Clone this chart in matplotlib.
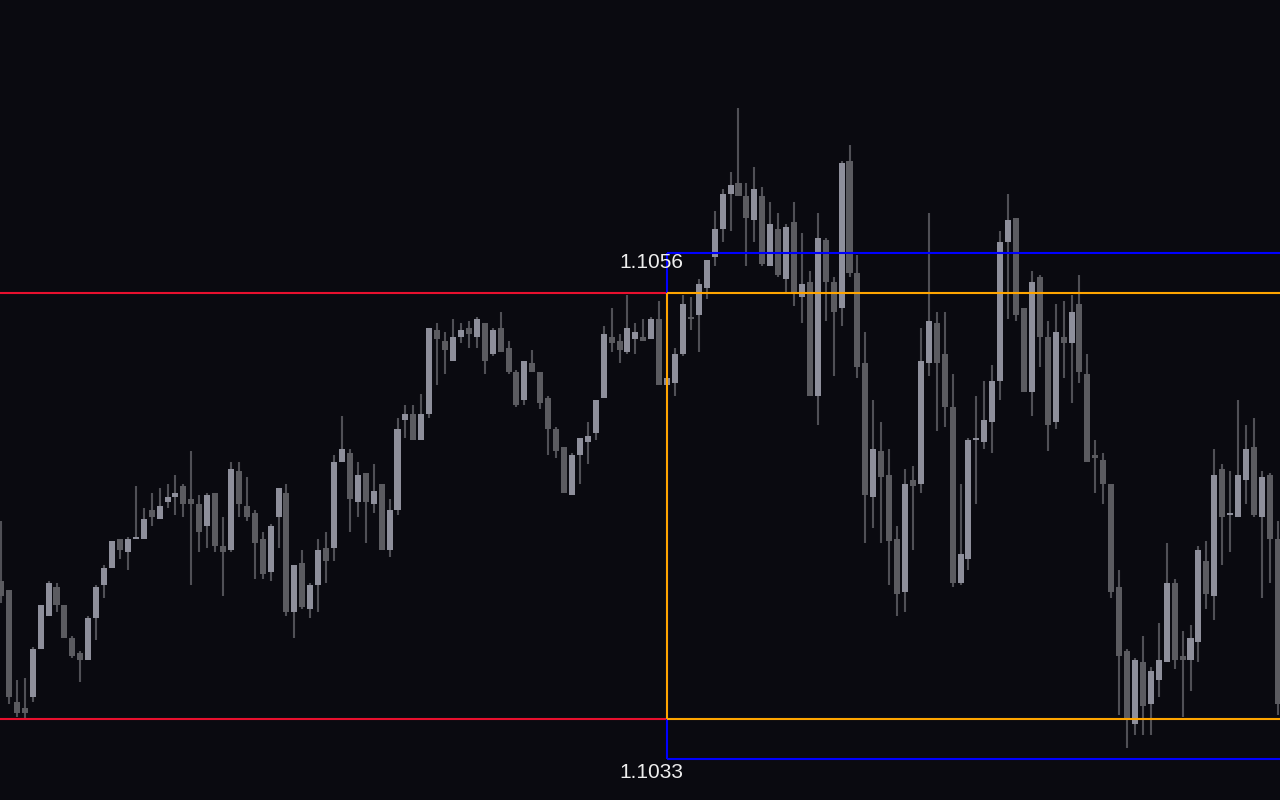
import numpy as np
import matplotlib
matplotlib.use("Agg")
from matplotlib import pyplot as plt

plt.rcParams['font.family'] = ['Liberation Sans', 'DejaVu Sans']

# OHLC, one entry per bar
opens = [
    1.10411, 1.10407, 1.10356, 1.10353, 1.10358, 1.10380, 1.10395, 1.10408, 1.10400, 1.10385,
    1.10378, 1.10375, 1.10394, 1.10409, 1.10417, 1.10430, 1.10424, 1.10430, 1.10430, 1.10443,
    1.10439, 1.10447, 1.10449, 1.10454, 1.10448, 1.10446, 1.10436, 1.10451, 1.10427, 1.10425,
    1.10461, 1.10445, 1.10442, 1.10430, 1.10415, 1.10440, 1.10451, 1.10397, 1.10419, 1.10398,
    1.10409, 1.10426, 1.10426, 1.10465, 1.10469, 1.10447, 1.10460, 1.10446, 1.10455, 1.10425,
    1.10443, 1.10484, 1.10487, 1.10475, 1.10487, 1.10525, 1.10520, 1.10511, 1.10522, 1.10526,
    1.10522, 1.10528, 1.10514, 1.10526, 1.10517, 1.10506, 1.10493, 1.10510, 1.10506, 1.10494,
    1.10480, 1.10472, 1.10450, 1.10468, 1.10474, 1.10478, 1.10494, 1.10522, 1.10520, 1.10515,
    1.10521, 1.10522, 1.10521, 1.10530, 1.10500, 1.10501, 1.10514, 1.10531, 1.10532, 1.10544,
    1.10558, 1.10571, 1.10587, 1.10592, 1.10586, 1.10575, 1.10586, 1.10554, 1.10571, 1.10548,
    1.10574, 1.10540, 1.10547, 1.10495, 1.10566, 1.10547, 1.10535, 1.10602, 1.10551, 1.10510,
    1.10449, 1.10470, 1.10459, 1.10430, 1.10406, 1.10457, 1.10455, 1.10510, 1.10528, 1.10514,
    1.10490, 1.10410, 1.10421, 1.10475, 1.10474, 1.10483, 1.10502, 1.10565, 1.10576, 1.10535,
    1.10497, 1.10549, 1.10522, 1.10483, 1.10522, 1.10519, 1.10537, 1.10505, 1.10468, 1.10466,
    1.10455, 1.10408, 1.10379, 1.10346, 1.10374, 1.10355, 1.10366, 1.10374, 1.10410, 1.10377,
    1.10375, 1.10383, 1.10420, 1.10404, 1.10462, 1.10441, 1.10440, 1.10457, 1.10472, 1.10440,
    1.10459, 1.10430,
]
highs = [
    1.10438, 1.10407, 1.10366, 1.10367, 1.10381, 1.10400, 1.10411, 1.10410, 1.10400, 1.10386,
    1.10379, 1.10395, 1.10409, 1.10418, 1.10429, 1.10430, 1.10431, 1.10454, 1.10444, 1.10451,
    1.10453, 1.10455, 1.10459, 1.10455, 1.10470, 1.10450, 1.10451, 1.10451, 1.10440, 1.10465,
    1.10465, 1.10458, 1.10443, 1.10433, 1.10437, 1.10453, 1.10455, 1.10418, 1.10425, 1.10410,
    1.10430, 1.10433, 1.10468, 1.10486, 1.10471, 1.10465, 1.10460, 1.10464, 1.10455, 1.10448,
    1.10485, 1.10491, 1.10491, 1.10496, 1.10526, 1.10528, 1.10524, 1.10530, 1.10528, 1.10529,
    1.10531, 1.10528, 1.10526, 1.10533, 1.10520, 1.10507, 1.10511, 1.10516, 1.10506, 1.10495,
    1.10481, 1.10472, 1.10469, 1.10476, 1.10483, 1.10493, 1.10527, 1.10535, 1.10523, 1.10541,
    1.10528, 1.10530, 1.10531, 1.10538, 1.10503, 1.10517, 1.10541, 1.10540, 1.10548, 1.10557,
    1.10579, 1.10589, 1.10597, 1.10626, 1.10592, 1.10599, 1.10590, 1.10583, 1.10578, 1.10573,
    1.10583, 1.10569, 1.10552, 1.10578, 1.10567, 1.10549, 1.10602, 1.10609, 1.10559, 1.10524,
    1.10493, 1.10483, 1.10471, 1.10436, 1.10462, 1.10463, 1.10526, 1.10578, 1.10533, 1.10533,
    1.10505, 1.10455, 1.10476, 1.10495, 1.10502, 1.10509, 1.10570, 1.10587, 1.10576, 1.10535,
    1.10552, 1.10550, 1.10529, 1.10537, 1.10538, 1.10541, 1.10550, 1.10514, 1.10475, 1.10469,
    1.10455, 1.10416, 1.10380, 1.10376, 1.10386, 1.10372, 1.10392, 1.10428, 1.10412, 1.10388,
    1.10391, 1.10427, 1.10429, 1.10471, 1.10464, 1.10461, 1.10493, 1.10482, 1.10485, 1.10461,
    1.10460, 1.10438,
]
lows = [
    1.10401, 1.10355, 1.10349, 1.10348, 1.10356, 1.10380, 1.10395, 1.10397, 1.10385, 1.10376,
    1.10365, 1.10375, 1.10384, 1.10403, 1.10417, 1.10421, 1.10416, 1.10430, 1.10430, 1.10436,
    1.10439, 1.10444, 1.10441, 1.10440, 1.10409, 1.10424, 1.10426, 1.10424, 1.10404, 1.10424,
    1.10440, 1.10438, 1.10412, 1.10412, 1.10411, 1.10426, 1.10395, 1.10385, 1.10398, 1.10394,
    1.10397, 1.10410, 1.10420, 1.10465, 1.10433, 1.10440, 1.10428, 1.10442, 1.10425, 1.10422,
    1.10441, 1.10476, 1.10475, 1.10475, 1.10485, 1.10500, 1.10505, 1.10511, 1.10519, 1.10517,
    1.10517, 1.10505, 1.10513, 1.10515, 1.10505, 1.10490, 1.10491, 1.10506, 1.10489, 1.10468,
    1.10467, 1.10451, 1.10450, 1.10455, 1.10464, 1.10475, 1.10494, 1.10515, 1.10510, 1.10514,
    1.10514, 1.10520, 1.10521, 1.10500, 1.10500, 1.10495, 1.10513, 1.10525, 1.10515, 1.10539,
    1.10554, 1.10565, 1.10570, 1.10586, 1.10554, 1.10565, 1.10554, 1.10554, 1.10549, 1.10542,
    1.10536, 1.10528, 1.10495, 1.10482, 1.10529, 1.10504, 1.10527, 1.10549, 1.10503, 1.10428,
    1.10435, 1.10428, 1.10409, 1.10395, 1.10397, 1.10425, 1.10451, 1.10504, 1.10479, 1.10481,
    1.10408, 1.10409, 1.10416, 1.10446, 1.10471, 1.10469, 1.10493, 1.10530, 1.10529, 1.10497,
    1.10486, 1.10508, 1.10470, 1.10480, 1.10503, 1.10492, 1.10501, 1.10465, 1.10451, 1.10446,
    1.10403, 1.10350, 1.10335, 1.10341, 1.10341, 1.10341, 1.10358, 1.10374, 1.10371, 1.10349,
    1.10361, 1.10374, 1.10398, 1.10393, 1.10418, 1.10424, 1.10440, 1.10446, 1.10440, 1.10403,
    1.10410, 1.10350,
]
closes = [
    1.10404, 1.10358, 1.10351, 1.10351, 1.10380, 1.10400, 1.10410, 1.10400, 1.10385, 1.10377,
    1.10375, 1.10394, 1.10408, 1.10417, 1.10429, 1.10425, 1.10430, 1.10431, 1.10439, 1.10440,
    1.10445, 1.10449, 1.10451, 1.10446, 1.10446, 1.10433, 1.10450, 1.10427, 1.10424, 1.10462,
    1.10446, 1.10440, 1.10428, 1.10414, 1.10436, 1.10453, 1.10397, 1.10418, 1.10399, 1.10409,
    1.10425, 1.10420, 1.10465, 1.10471, 1.10448, 1.10459, 1.10447, 1.10452, 1.10425, 1.10443,
    1.10480, 1.10487, 1.10475, 1.10487, 1.10526, 1.10521, 1.10516, 1.10522, 1.10525, 1.10523,
    1.10530, 1.10511, 1.10525, 1.10515, 1.10506, 1.10491, 1.10511, 1.10506, 1.10492, 1.10480,
    1.10470, 1.10451, 1.10468, 1.10476, 1.10477, 1.10493, 1.10523, 1.10519, 1.10516, 1.10526,
    1.10524, 1.10520, 1.10530, 1.10500, 1.10503, 1.10514, 1.10537, 1.10530, 1.10546, 1.10557,
    1.10571, 1.10587, 1.10591, 1.10586, 1.10576, 1.10589, 1.10555, 1.10573, 1.10550, 1.10572,
    1.10542, 1.10546, 1.10495, 1.10567, 1.10547, 1.10533, 1.10601, 1.10551, 1.10508, 1.10450,
    1.10471, 1.10458, 1.10429, 1.10405, 1.10455, 1.10454, 1.10511, 1.10529, 1.10510, 1.10490,
    1.10410, 1.10423, 1.10475, 1.10476, 1.10484, 1.10502, 1.10565, 1.10575, 1.10532, 1.10497,
    1.10547, 1.10522, 1.10482, 1.10524, 1.10519, 1.10533, 1.10506, 1.10465, 1.10467, 1.10455,
    1.10406, 1.10377, 1.10348, 1.10375, 1.10354, 1.10370, 1.10375, 1.10410, 1.10375, 1.10375,
    1.10385, 1.10425, 1.10405, 1.10459, 1.10440, 1.10442, 1.10459, 1.10471, 1.10441, 1.10458,
    1.10430, 1.10355,
]

# levels
range_high = 1.10542   # red / orange upper
range_low = 1.10348    # red / orange lower
box_high = 1.1056      # blue upper
box_low = 1.1033       # blue lower
box_start = 83.95      # bar index where the box begins

BG = '#0a0a10'
UP = '#8e8f9b'
DOWN = '#5b5b60'
WICK = '#505056'


def main():
    o = np.array(opens)
    h = np.array(highs)
    l = np.array(lows)
    c = np.array(closes)
    x = np.arange(len(o))

    fig = plt.figure(figsize=(12.8, 8), dpi=100, facecolor=BG)
    ax = fig.add_axes([0, 0, 1, 1])
    ax.set_facecolor(BG)

    px = 7.93  # pixels per bar
    x_left = -1 / px
    x_right = 1279 / px
    ax.set_xlim(x_left, x_right)
    ax.set_ylim(1.103114, 1.10675)
    ax.axis('off')

    up = c >= o
    colors = np.where(up, UP, DOWN)
    ax.vlines(x, l, h, color=WICK, lw=1.5, zorder=2)
    ax.bar(x, np.maximum(np.abs(c - o), 0.000008), bottom=np.minimum(o, c),
           width=0.76, color=colors, zorder=3, linewidth=0)

    lw = 1.5
    ax.hlines([range_high, range_low], x_left, box_start, color='#e8102e', lw=lw, zorder=4)
    ax.hlines([box_high, box_low], box_start, x_right, color='#0000ff', lw=lw, zorder=4)
    ax.vlines(box_start, box_low, box_high, color='#0000ff', lw=lw, zorder=4)
    ax.hlines([range_high, range_low], box_start, x_right, color='#ffa500', lw=lw, zorder=5)
    ax.vlines(box_start, range_low, range_high, color='#ffa500', lw=lw, zorder=5)

    ax.annotate(f'{box_high:.4f}', (box_start, box_high), xytext=(-11, -7),
                textcoords='offset points', ha='center', va='center',
                color='#eeeeee', fontsize=15, zorder=6)
    ax.annotate(f'{box_low:.4f}', (box_start, box_low), xytext=(-11, -10),
                textcoords='offset points', ha='center', va='center',
                color='#eeeeee', fontsize=15, zorder=6)

    fig.savefig('out.png', dpi=100, facecolor=BG)


if __name__ == '__main__':
    main()
